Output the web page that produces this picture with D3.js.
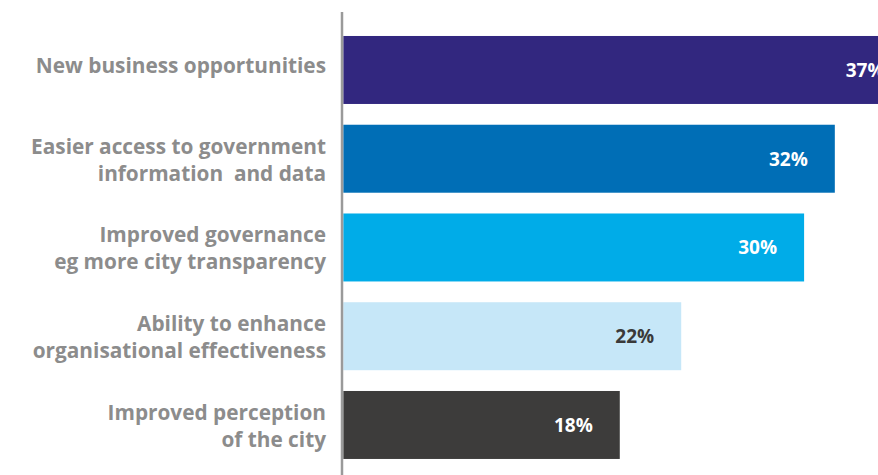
<!DOCTYPE html>
<html>
<head>
<meta charset="utf-8">
<script src="https://cdn.jsdelivr.net/npm/d3@7"></script>
<style>
  html, body { margin: 0; padding: 0; background: #fff; }
  svg { display: block; overflow: hidden; }
</style>
</head>
<body>
<svg id="chart" width="878" height="475"></svg>
<script>
// Perceived benefits of open data, share of respondents
const categories = [
  "New business opportunities",
  "Easier access to government information  and data",
  "Improved governance eg more city transparency",
  "Ability to enhance organisational effectiveness",
  "Improved perception of the city"
];
const labelLines = [
  ["New business opportunities"],
  ["Easier access to government", "information  and data"],
  ["Improved governance", "eg more city transparency"],
  ["Ability to enhance", "organisational effectiveness"],
  ["Improved perception", "of the city"]
];
const values = [37, 32, 30, 22, 18];
const barColors = ["#32277f", "#006eb6", "#00ace8", "#c6e7f8", "#3d3c3b"];
const valueColors = ["#ffffff", "#ffffff", "#ffffff", "#3a3a3a", "#ffffff"];

const svg = d3.select("#chart");
const W = 878, H = 475;
const x0 = 343.3;

const x = d3.scaleLinear().domain([0, 40]).range([x0, x0 + 40 * 15.36]);
const y = d3.scaleBand()
  .domain(categories)
  .range([25.6, 25.6 + 5 * 88.75])
  .paddingInner(0.234)
  .paddingOuter(0.117);

const font = "'Open Sans', Roboto, 'Liberation Sans', Arial, sans-serif";

// bars
svg.append("g").selectAll("rect")
  .data(values)
  .join("rect")
  .attr("x", x(0))
  .attr("y", (d, i) => y(categories[i]))
  .attr("width", d => x(d) - x(0))
  .attr("height", y.bandwidth())
  .attr("fill", (d, i) => barColors[i]);

// value labels, right-aligned inside each bar
svg.append("g").selectAll("text")
  .data(values)
  .join("text")
  .attr("x", d => x(d) - 27)
  .attr("y", (d, i) => y(categories[i]) + y.bandwidth() / 2 + 7)
  .attr("text-anchor", "end")
  .attr("font-family", font)
  .attr("font-weight", 700)
  .attr("font-size", 19)
  .attr("fill", (d, i) => valueColors[i])
  .text(d => d + "%");

// category labels
const lab = svg.append("g").selectAll("text")
  .data(labelLines)
  .join("text")
  .attr("text-anchor", "end")
  .attr("font-family", font)
  .attr("font-weight", 700)
  .attr("font-size", 20.8)
  .attr("fill", "#8c8c8c")
  .attr("xml:space", "preserve")
  .style("white-space", "pre");

lab.each(function(lines, i) {
  const cy = y(categories[i]) + y.bandwidth() / 2;
  const t = d3.select(this);
  if (lines.length === 1) {
    t.append("tspan").attr("x", 326).attr("y", cy + 3).text(lines[0]);
  } else {
    t.append("tspan").attr("x", 326).attr("y", cy - 5).text(lines[0]);
    t.append("tspan").attr("x", 326).attr("y", cy + 22).text(lines[1]);
  }
});

// vertical category axis line
svg.append("line")
  .attr("x1", 342).attr("x2", 342)
  .attr("y1", 12).attr("y2", H)
  .attr("stroke", "#9a9a9a")
  .attr("stroke-width", 2.5);
</script>
</body>
</html>
